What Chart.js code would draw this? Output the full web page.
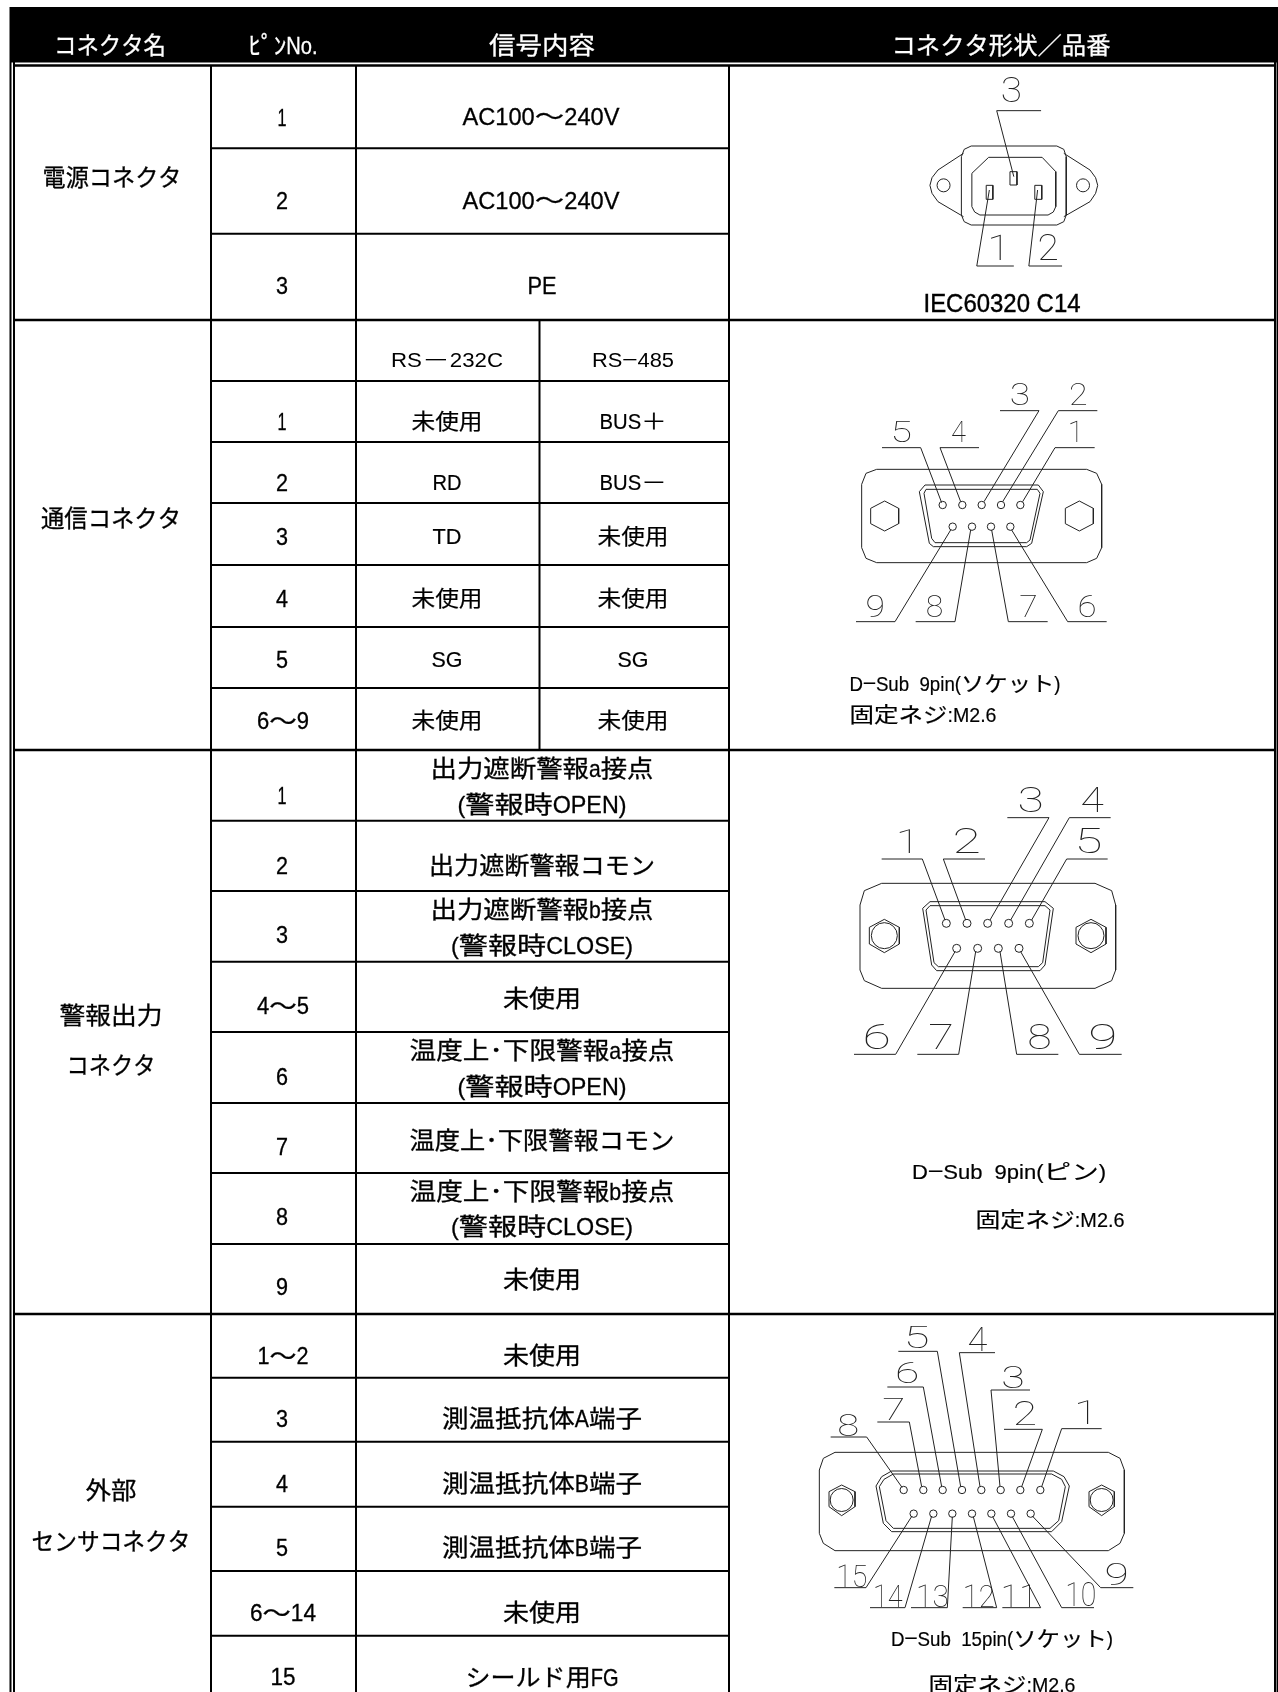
<!DOCTYPE html>
<html>
<head>
<meta charset="utf-8">
<style>
  html, body { margin: 0; padding: 0; background: #fff; }
  canvas { display: block; }
</style>
<script src="https://cdn.jsdelivr.net/npm/chart.js@4"></script>
</head>
<body>
<canvas id="table-chart" width="1278" height="1692"></canvas>
<script>
// table rules, in axis units
const frameLines = [10.5, 14, 1275, 1277.5];
const columnLines = [211, 356, 729];
const splitColumn = 539.5;
const sectionLines = [65.5, 320, 750, 1314];
const rowLines = [148.3, 233.7, 381, 442, 503, 565, 627, 688, 820.7, 891, 961.7, 1032, 1103, 1173, 1244, 1377.7, 1441.7, 1506.7, 1571, 1635.7];

// [text, centre x, centre y, width]
const headerLabels = [
  ['コネクタ名', 110, 45, 112], ['ﾋﾟﾝNo.', 283, 45, 69],
  ['信号内容', 542, 45, 106], ['コネクタ形状／品番', 1001, 45, 219]
];
const connectorLabels = [
  ['電源コネクタ', 112, 177, 139], ['通信コネクタ', 111, 518, 140],
  ['警報出力', 111, 1015, 103], ['コネクタ', 111, 1065, 89],
  ['外部', 111, 1490, 51], ['センサコネクタ', 111, 1541, 159]
];
const pinLabels = [
  ['1', 282, 117, 9], ['2', 282, 200, 12], ['3', 282, 285, 12],
  ['1', 282, 421, 9], ['2', 282, 482, 12], ['3', 282, 536, 12], ['4', 282, 598, 12], ['5', 282, 659, 12], ['6～9', 283, 720, 52],
  ['1', 282, 795, 9], ['2', 282, 865, 12], ['3', 282, 934, 12], ['4～5', 283, 1005, 52], ['6', 282, 1076, 12], ['7', 282, 1146, 12], ['8', 282, 1216, 12], ['9', 282, 1286, 12],
  ['1～2', 283, 1355, 51], ['3', 282, 1418, 12], ['4', 282, 1483, 12], ['5', 282, 1547, 12], ['6～14', 283, 1612, 66], ['15', 283, 1676, 25]
];
const signalLabels = [
  ['AC100～240V', 541, 116, 157], ['AC100～240V', 541, 200, 157], ['PE', 542, 285, 29],
  ['出力遮断警報a接点', 542, 768, 223], ['(警報時OPEN)', 542, 804, 169],
  ['出力遮断警報コモン', 542, 865, 226],
  ['出力遮断警報b接点', 542, 909, 223], ['(警報時CLOSE)', 542, 945, 182],
  ['未使用', 542, 998, 78],
  ['温度上･下限警報a接点', 542, 1050, 265], ['(警報時OPEN)', 542, 1086, 169],
  ['温度上･下限警報コモン', 542, 1140, 265],
  ['温度上･下限警報b接点', 542, 1191, 265], ['(警報時CLOSE)', 542, 1226, 182],
  ['未使用', 542, 1279, 78],
  ['未使用', 542, 1355, 78], ['測温抵抗体A端子', 542, 1418, 200], ['測温抵抗体B端子', 542, 1483, 200],
  ['測温抵抗体B端子', 542, 1547, 200], ['未使用', 542, 1612, 78], ['シールド用FG', 542, 1677, 153]
];
const serialLabels = [
  ['未使用', 447, 421, 71], ['BUS＋', 633, 421, 67],
  ['RD', 447, 482, 29], ['BUS－', 633, 482, 67],
  ['TD', 447, 536, 29], ['未使用', 633, 536, 71],
  ['未使用', 447, 598, 71], ['未使用', 633, 598, 71],
  ['SG', 447, 659, 31], ['SG', 633, 659, 31],
  ['未使用', 447, 720, 71], ['未使用', 633, 720, 71]
];
const serialHeads = [['RS－232C', 447, 360, 112], ['RS−485', 633, 360, 82]];
const inletLabel = [['IEC60320 C14', 1002, 303, 157]];
const noteLabels = [
  ['D−Sub  9pin(ソケット)', 955, 683, 211], ['固定ネジ:M2.6', 923, 714, 147],
  ['D−Sub  9pin(ピン)', 1009, 1171, 194], ['固定ネジ:M2.6', 1050, 1219, 149],
  ['D−Sub  15pin(ソケット)', 1002, 1638, 222], ['固定ネジ:M2.6', 1002, 1684, 147]
];

// power inlet, read in zoom units
const powerPlace = { ox: 730, oy: 0, kx: 1 / 2.861, ky: 1 / 3 };
const powerLines = [
  [[690, 438], [935, 438], [955, 448], [962, 470], [962, 645], [955, 665], [935, 675], [690, 675], [670, 665], [662, 645], [662, 470], [670, 448], [690, 438]],
  [[740, 472], [893, 472], [932, 515], [932, 620], [925, 636], [910, 645], [715, 645], [700, 636], [692, 620], [692, 520], [740, 472]],
  [[668, 460], [595, 510], [578, 533], [572, 556], [578, 580], [595, 605], [668, 650]],
  [[955, 460], [1030, 510], [1046, 533], [1052, 556], [1046, 580], [1030, 605], [955, 650]],
  [[801, 515], [821, 515], [821, 555], [801, 555], [801, 515]],
  [[733, 556], [752, 556], [752, 598], [733, 598], [733, 556]],
  [[872, 556], [892, 556], [892, 598], [872, 598], [872, 556]],
  [[890, 332], [763, 332], [812, 530]],
  [[812, 798], [706, 798], [742, 570]],
  [[950, 798], [855, 798], [880, 570]]
];
const powerHoles = [[611, 556], [1010, 556]];
const powerDigits = [['3', 780, 830, 230, 305], ['1', 745, 775, 700, 780], ['2', 885, 935, 700, 780]];

// 9 pin socket
const socket9Place = { ox: 800, oy: 360, kx: 1 / 3, ky: 1 / 3 };
const socket9Lines = [
  [[230, 328], [860, 328], [890, 340], [905, 373], [905, 563], [890, 595], [860, 608], [230, 608], [198, 595], [185, 563], [185, 373], [198, 340], [230, 328]],
  [[375, 375], [715, 375], [730, 395], [695, 550], [680, 560], [400, 560], [388, 550], [358, 395], [375, 375]],
  [[378, 388], [712, 388], [720, 400], [690, 540], [680, 548], [405, 548], [395, 535], [372, 400], [378, 388]],
  [[254, 423], [296, 445], [296, 491], [254, 513], [212, 491], [212, 445], [254, 423]],
  [[838, 423], [880, 445], [880, 491], [838, 513], [796, 491], [796, 445], [838, 423]],
  [[246, 263], [362, 263], [425, 428]], [[537, 263], [420, 263], [482, 425]],
  [[600, 152], [717, 152], [552, 425]], [[892, 152], [775, 152], [608, 425]], [[884, 263], [765, 263], [668, 425]],
  [[168, 785], [285, 785], [452, 510]], [[347, 785], [465, 785], [512, 510]],
  [[743, 785], [625, 785], [575, 510]], [[920, 785], [803, 785], [635, 510]]
];
const socket9Pins = [[428, 435], [487, 435], [545, 435], [603, 435], [661, 435], [458, 500], [516, 500], [573, 500], [631, 500]];
const socket9Digits = [
  ['5', 280, 330, 180, 245], ['4', 455, 498, 180, 245], ['3', 635, 685, 68, 135], ['2', 812, 858, 68, 135], ['1', 810, 832, 180, 245],
  ['9', 202, 250, 700, 770], ['8', 380, 428, 700, 770], ['7', 660, 708, 700, 770], ['6', 838, 885, 700, 770]
];

// 9 pin plug
const plug9Place = { ox: 800, oy: 770, kx: 1 / 3, ky: 1 / 3 };
const plug9Lines = [
  [[245, 340], [885, 340], [935, 362], [947, 405], [947, 600], [935, 632], [885, 655], [245, 655], [193, 632], [180, 600], [180, 405], [193, 362], [245, 340]],
  [[390, 395], [735, 395], [760, 415], [735, 585], [720, 602], [410, 602], [395, 585], [368, 415], [390, 395]],
  [[390, 407], [735, 407], [750, 420], [728, 578], [715, 590], [415, 590], [402, 578], [378, 420], [390, 407]],
  [[253, 448], [298, 472], [298, 522], [253, 548], [208, 522], [208, 472], [253, 448]],
  [[873, 448], [918, 472], [918, 522], [873, 548], [828, 522], [828, 472], [873, 448]],
  [[245, 267], [367, 267], [435, 450]], [[555, 267], [430, 267], [497, 450]],
  [[622, 143], [747, 143], [570, 450]], [[932, 143], [808, 143], [632, 450]], [[923, 267], [800, 267], [695, 450]],
  [[162, 853], [287, 853], [465, 545]], [[352, 853], [476, 853], [527, 545]],
  [[775, 853], [650, 853], [600, 545]], [[965, 853], [838, 853], [662, 545]]
];
const plug9Pins = [[439, 460], [501, 460], [563, 460], [626, 460], [688, 460], [470, 535], [533, 535], [595, 535], [657, 535]];
const plug9Nuts = [[253, 497], [873, 497]];
const plug9Digits = [
  ['1', 297, 330, 175, 250], ['2', 465, 535, 175, 250], ['3', 660, 725, 50, 125], ['4', 845, 912, 50, 125], ['5', 835, 900, 175, 250],
  ['6', 195, 265, 760, 838], ['7', 388, 455, 760, 838], ['8', 685, 752, 760, 838], ['9', 873, 945, 760, 838]
];

// 15 pin socket
const socket15Place = { ox: 790, oy: 1310, kx: 1 / 3, ky: 1 / 3 };
const socket15Lines = [
  [[135, 427], [955, 427], [990, 445], [1003, 480], [1003, 670], [990, 700], [955, 722], [135, 722], [100, 700], [88, 670], [88, 480], [100, 445], [135, 427]],
  [[305, 483], [790, 483], [822, 500], [838, 528], [815, 635], [785, 665], [305, 665], [280, 640], [258, 528], [275, 500], [305, 483]],
  [[310, 492], [785, 492], [815, 508], [826, 530], [806, 632], [780, 655], [310, 655], [288, 632], [268, 530], [282, 508], [310, 492]],
  [[155, 525], [195, 545], [195, 590], [155, 617], [117, 590], [117, 545], [155, 525]],
  [[935, 525], [973, 545], [973, 590], [935, 617], [897, 590], [897, 545], [935, 525]],
  [[122, 381], [230, 381], [336, 532]], [[262, 336], [358, 336], [395, 530]], [[292, 231], [400, 231], [455, 530]],
  [[325, 124], [442, 124], [512, 530]], [[615, 128], [508, 128], [570, 530]], [[720, 240], [603, 240], [630, 530]],
  [[642, 358], [757, 358], [695, 530]], [[935, 356], [815, 356], [755, 530]],
  [[133, 833], [228, 833], [366, 618]], [[240, 893], [345, 893], [425, 618]], [[363, 893], [472, 893], [487, 620]],
  [[518, 893], [620, 893], [550, 620]], [[637, 893], [752, 893], [608, 620]], [[912, 893], [815, 893], [667, 620]],
  [[1030, 833], [932, 833], [727, 618]]
];
const socket15Pins = [
  [341, 540], [400, 540], [458, 540], [516, 540], [574, 540], [632, 540], [691, 540], [751, 540],
  [371, 611], [430, 611], [487, 611], [546, 611], [604, 611], [663, 611], [722, 611]
];
const socket15Nuts = [[155, 570], [935, 570]];
const socket15Digits = [
  ['8', 145, 205, 308, 378], ['7', 280, 340, 262, 330], ['6', 322, 382, 155, 220], ['5', 352, 412, 45, 115],
  ['4', 535, 592, 50, 122], ['3', 640, 698, 165, 235], ['2', 675, 735, 272, 345], ['1', 862, 895, 268, 342],
  ['15', 145, 228, 760, 832], ['14', 255, 338, 820, 890], ['13', 385, 472, 820, 890], ['12', 525, 610, 820, 890],
  ['11', 640, 720, 820, 890], ['10', 832, 915, 815, 888], ['9', 950, 1010, 755, 825]
];

const LATIN_FONT = '"Liberation Sans", sans-serif';
const CJK_FONT = '"Noto Sans CJK JP", sans-serif';
const DIGIT_FONT = '100 40px Roboto, "DejaVu Sans", sans-serif';
const LATIN_SQUEEZE = 0.8;

const place = (p, pts) => pts.map(([x, y]) => ({ x: p.ox + x * p.kx, y: p.oy + y * p.ky }));

const datasets = [];

function addLine(data, color, width) {
  datasets.push({ data, showLine: true, fill: false, borderColor: color, borderWidth: width, pointRadius: 0 });
}

// black header band
datasets.push({
  data: [{ x: 11, y: 7 }, { x: 1277, y: 7 }],
  showLine: true, borderWidth: 0, pointRadius: 0,
  backgroundColor: '#000', fill: { value: 62.5 }
});
for (const x of columnLines) addLine([{ x, y: 11 }, { x, y: 61 }], '#fff', 2);
for (const x of frameLines) addLine([{ x, y: 7 }, { x, y: 1692 }], '#000', 2);
for (const x of columnLines) addLine([{ x, y: 65.5 }, { x, y: 1692 }], '#000', 2);
addLine([{ x: splitColumn, y: 320 }, { x: splitColumn, y: 750 }], '#000', 2);
for (const y of sectionLines) addLine([{ x: 14, y }, { x: 1275, y }], '#000', 2.4);
for (const y of rowLines) addLine([{ x: 211, y }, { x: 729, y }], '#000', 2);

function addRings(p, pts, radius) {
  datasets.push({
    data: place(p, pts), showLine: false, pointRadius: radius,
    pointBorderWidth: 1, pointBorderColor: '#222', pointBackgroundColor: 'transparent'
  });
}
function addDiagram(p, lines, pins, pinRadius) {
  for (const l of lines) addLine(place(p, l), '#222', 1);
  addRings(p, pins, pinRadius);
}
addDiagram(powerPlace, powerLines, powerHoles, 6.5);
addDiagram(socket9Place, socket9Lines, socket9Pins, 3.7);
addDiagram(plug9Place, plug9Lines, plug9Pins, 4);
addRings(plug9Place, plug9Nuts, 13);
addDiagram(socket15Place, socket15Lines, socket15Pins, 3.7);
addRings(socket15Place, socket15Nuts, 11.5);

const textPlugin = {
  id: 'tableText',
  afterDatasetsDraw(chart) {
    const { ctx, scales } = chart;
    const px = (x) => scales.x.getPixelForValue(x);
    const py = (y) => scales.y.getPixelForValue(y);

    // runs of ascii are set narrower than the kana and kanji next to them
    function put(rows, size, color, heavy) {
      ctx.fillStyle = color;
      ctx.strokeStyle = color;
      ctx.lineWidth = heavy;
      ctx.textAlign = 'left';
      ctx.textBaseline = 'alphabetic';
      for (const [text, x, y, w] of rows) {
        const runs = text.match(/[\x20-\x7e]+|[^\x20-\x7e]+/g).map((t) => {
          const latin = t.charCodeAt(0) < 127;
          ctx.font = `${size}px ${latin ? LATIN_FONT : CJK_FONT}`;
          const k = latin ? LATIN_SQUEEZE : 1;
          return { t, latin, k, width: ctx.measureText(t).width * k };
        });
        const total = runs.reduce((a, r) => a + r.width, 0);
        ctx.save();
        ctx.translate(px(x) - w / 2, py(y) + size * 0.37);
        ctx.scale(w / total, 1);
        let pen = 0;
        for (const r of runs) {
          ctx.font = `${size}px ${r.latin ? LATIN_FONT : CJK_FONT}`;
          ctx.save();
          ctx.translate(pen, 0);
          ctx.scale(r.k, 1);
          ctx.fillText(r.t, 0, 0);
          if (heavy) ctx.strokeText(r.t, 0, 0);
          ctx.restore();
          pen += r.width;
        }
        ctx.restore();
      }
    }

    // drawing digits are stretched to the box they fill in the drawing
    function putDigits(p, rows) {
      ctx.font = DIGIT_FONT;
      ctx.fillStyle = '#222';
      ctx.textAlign = 'left';
      ctx.textBaseline = 'alphabetic';
      for (const [text, x0, x1, y0, y1] of rows) {
        const m = ctx.measureText(text);
        const bw = m.actualBoundingBoxLeft + m.actualBoundingBoxRight;
        const bh = m.actualBoundingBoxAscent + m.actualBoundingBoxDescent;
        const left = px(p.ox + x0 * p.kx);
        const right = px(p.ox + x1 * p.kx);
        const top = py(p.oy + y0 * p.ky);
        const bottom = py(p.oy + y1 * p.ky);
        ctx.save();
        ctx.translate(left, bottom);
        ctx.scale((right - left) / bw, (bottom - top) / bh);
        ctx.fillText(text, m.actualBoundingBoxLeft, -m.actualBoundingBoxDescent);
        ctx.restore();
      }
    }

    ctx.save();
    put(headerLabels, 24, '#fff', 0.3);
    put(connectorLabels, 24, '#000', 0.3);
    put(pinLabels, 23, '#000', 0.3);
    put(signalLabels, 24, '#000', 0.3);
    put(serialLabels, 22, '#000', 0.2);
    put(serialHeads, 19.5, '#000', 0);
    put(inletLabel, 25, '#000', 0.4);
    put(noteLabels, 21, '#000', 0.2);
    putDigits(powerPlace, powerDigits);
    putDigits(socket9Place, socket9Digits);
    putDigits(plug9Place, plug9Digits);
    putDigits(socket15Place, socket15Digits);
    ctx.restore();
  }
};

new Chart(document.getElementById('table-chart').getContext('2d'), {
  type: 'scatter',
  data: { datasets },
  plugins: [textPlugin],
  options: {
    responsive: false,
    animation: false,
    layout: { padding: 0, autoPadding: false },
    plugins: { legend: { display: false }, tooltip: { enabled: false } },
    scales: {
      x: { type: 'linear', min: 0, max: 1278, display: false },
      y: { type: 'linear', min: 0, max: 1692, reverse: true, display: false }
    },
    elements: { line: { tension: 0 } }
  }
});
</script>
</body>
</html>
